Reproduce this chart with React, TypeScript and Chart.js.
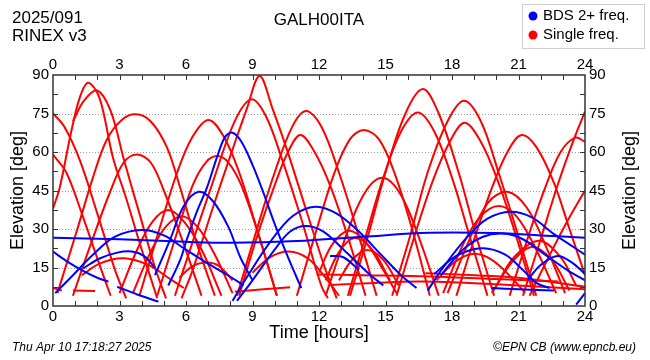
import React, { useEffect, useRef } from "react";
import { Chart, registerables } from "chart.js";

Chart.register(...registerables);

// ---- axis ticks ----
const xTickLabels = [0, 3, 6, 9, 12, 15, 18, 21, 24];
const yTickLabels = [0, 15, 30, 45, 60, 75, 90];
const xMinorTicks = [1, 2, 3, 4, 5, 6, 7, 8, 9, 10, 11, 12, 13, 14, 15, 16, 17, 18, 19, 20, 21, 22, 23];
const yMinorTicks = [7.5, 15, 22.5, 30, 37.5, 45, 52.5, 60, 67.5, 75, 82.5];
const gridValues = [15, 30, 45, 60, 75];

// ---- texts ----
const titleText = "GALH00ITA";
const topLeftLines = ["2025/091", "RINEX v3"];
const legendItems = [
  { label: "BDS 2+ freq.", color: "#0000ff" },
  { label: "Single freq.", color: "#ff0000" },
];
const xAxisTitle = "Time [hours]";
const yAxisTitle = "Elevation [deg]";
const footerLeft = "Thu Apr 10 17:18:27 2025";
const footerRight = "\u00A9EPN CB (www.epncb.eu)";

// ---- single-frequency satellite tracks [hour, elevation] ----
const redHigh1 = [[0, 38], [0.3, 46], [0.8, 67], [1.2, 81], [1.58, 87], [2.1, 81], [2.7, 58], [3.3, 42], [4.0, 22], [4.7, 3]];
const redHigh2 = [[0.9, 72], [1.4, 80], [1.99, 84], [2.6, 76], [3.2, 57], [3.9, 36], [4.6, 15], [5.1, 3]];
const redHigh3 = [[0.2, 5], [1.1, 30], [1.8, 50], [2.42, 64.7], [3.1, 72.5], [3.74, 74.7], [4.4, 72], [5.13, 62], [5.74, 46], [6.5, 24], [7.3, 4]];
const redHigh4 = [[0.9, 4], [1.7, 24], [2.6, 45], [3.2, 56], [3.78, 59], [4.4, 56], [5.0, 45], [5.9, 24], [6.7, 4]];
const redHigh5 = [[3.9, 4], [4.8, 30], [5.6, 52], [6.3, 66], [7.02, 72.5], [7.7, 66], [8.4, 52], [9.2, 30], [10.1, 4]];
const redHigh6 = [[4.7, 4], [5.5, 26], [6.3, 47], [6.9, 56], [7.4, 58.4], [7.9, 56], [8.5, 47], [9.3, 27], [10.1, 4]];
const redHigh7 = [[5.8, 3], [6.3, 14], [7.2, 38], [8.1, 61], [8.75, 77], [9.32, 89.6], [9.9, 77], [10.55, 61], [11.4, 38], [12.3, 14], [12.8, 3]];
const redHigh8 = [[5.5, 4], [6.3, 25], [7.2, 48], [8.2, 72], [8.95, 80.5], [9.6, 74], [10.3, 58], [11.2, 34], [12.1, 8], [12.4, 3]];
const redHigh9 = [[8.3, 4], [9.2, 30], [10.0, 52], [10.8, 70], [11.42, 76], [12.1, 70], [12.9, 52], [13.7, 30], [14.6, 4]];
const redHigh10 = [[8.4, 4], [9.2, 27], [10.0, 47], [10.6, 60], [11.16, 66.6], [11.8, 60], [12.5, 47], [13.3, 27], [14.1, 4]];
const redHigh11 = [[11.0, 4], [11.9, 30], [12.7, 52], [13.4, 65], [14.02, 68.6], [14.7, 65], [15.4, 52], [16.2, 30], [17.0, 4]];
const redHigh12 = [[12.3, 4], [13.0, 22], [13.7, 38], [14.3, 47], [14.85, 50], [15.4, 47], [16.0, 38], [16.7, 22], [17.4, 4]];
const redHigh13 = [[13.4, 4], [14.2, 27], [15.0, 52], [15.9, 75], [16.69, 84.5], [17.4, 75], [18.3, 52], [19.1, 27], [19.9, 4]];
const redHigh14 = [[13.3, 4], [14.1, 27], [14.9, 50], [15.7, 68], [16.46, 75.4], [17.2, 68], [18.0, 50], [18.8, 27], [19.6, 4]];
const redHigh15 = [[15.3, 4], [16.1, 27], [16.9, 52], [17.8, 72], [18.54, 80], [19.3, 72], [20.1, 52], [21.0, 27], [21.8, 4]];
const redHigh16 = [[15.5, 4], [16.3, 27], [17.1, 48], [17.9, 64], [18.57, 71.4], [19.3, 64], [20.1, 48], [20.9, 27], [21.7, 4]];
const redHigh17 = [[18.2, 4], [19.0, 26], [19.8, 46], [20.5, 60], [21.13, 66.6], [21.8, 62], [22.6, 48], [23.3, 30], [24, 12]];
const redHigh18 = [[21.2, 4], [22.0, 26], [22.8, 48], [23.5, 65], [24, 75.7]];
const redHigh19 = [[20.6, 4], [21.4, 26], [22.2, 46], [22.9, 60], [23.56, 65.6], [24, 64]];
const redHigh20 = [[0, 75], [0.5, 70], [1.2, 57], [2.0, 36], [2.8, 14], [3.3, 3]];
const redHigh21 = [[0, 59], [0.6, 52], [1.3, 36], [2.1, 16], [2.6, 4]];
const redMid1 = [[3.0, 5], [3.8, 22], [4.5, 33], [5.2, 37.4], [5.9, 33], [6.7, 22], [7.6, 4]];
const redMid2 = [[3.6, 5], [4.4, 21], [5.1, 31], [5.8, 35], [6.5, 31], [7.3, 20], [8.1, 5]];
const redMid3 = [[17.8, 5], [18.6, 22], [19.6, 40], [20.5, 44.5], [21.4, 38], [22.3, 22], [23.1, 5]];
const redMid4 = [[17.6, 5], [18.5, 24], [19.3, 35], [20.1, 39], [20.9, 35], [21.8, 22], [22.7, 5]];
const redMid5 = [[21.5, 4], [22.3, 18], [23.2, 33], [24, 45]];
const redLow1 = [[1.3, 12], [2.1, 16.5], [3.18, 18.6], [4.3, 16], [5.2, 11], [5.9, 7]];
const redLow2 = [[5.7, 11], [6.3, 15.5], [6.94, 16.9], [7.5, 15.5], [8.1, 10]];
const redLow3 = [[9.0, 13], [9.8, 19], [10.63, 21.2], [11.5, 18.5], [12.3, 11], [12.9, 4]];
const redLow4 = [[12.0, 13], [12.6, 24], [13.35, 29.3], [14.1, 25], [14.9, 14], [15.5, 5]];
const redLow5 = [[12.3, 10], [12.9, 21], [13.6, 26.5], [14.4, 22], [15.2, 10]];
const redLow6 = [[12.9, 10], [13.5, 18], [14.17, 21.8], [14.9, 18], [15.6, 8]];
const redLow7 = [[20.0, 8], [20.8, 19], [21.93, 25.4], [22.9, 19], [23.6, 8]];
const redLow8 = [[19.8, 5], [20.7, 17], [21.6, 23], [22.5, 18], [23.3, 6]];
const redLow9 = [[17.3, 10], [18.1, 17], [18.92, 20.3], [19.8, 18], [20.8, 10], [21.3, 5]];
const redFlat1 = [[11.9, 12.3], [14, 12], [17, 11.5], [20, 10.5], [22.8, 9.5]];
const redFlat2 = [[12.5, 8.2], [14.5, 9], [16.5, 9.5], [18, 9.3], [20, 8.5], [22, 7.5], [24, 6.5]];
const redFlat3 = [[16.8, 12.8], [19, 12], [21, 11], [24, 7.5]];
const redFlat4 = [[8.2, 5.6], [9.5, 6.5], [10.7, 7.3]];
const redFrag1 = [[0, 7], [0.4, 6]];
const redFrag2 = [[0.9, 6], [1.9, 5.8]];

// ---- BDS tracks [hour, elevation] ----
const blueGeo = [[0, 26.6], [3, 26], [6, 25], [8, 24.6], [11, 25.3], [14, 27], [17, 28.5], [20, 28.4], [22, 27.5], [24, 26.6]];
const blue1 = [[5.2, 8], [5.74, 18], [6.04, 26], [6.5, 37], [6.94, 46], [7.4, 58], [7.77, 66], [8.1, 67.5], [8.5, 64], [9.0, 55], [9.5, 44], [10.0, 32], [10.6, 19], [11.2, 7]];
const blue2 = [[4.6, 12], [5.29, 26], [5.9, 39], [6.57, 44.5], [7.2, 41], [7.9, 31], [8.45, 19], [9.0, 10]];
const blue3 = [[0.1, 5], [0.9, 12], [1.8, 20], [2.8, 27], [4.0, 29.6], [5.0, 27.5], [5.9, 22.5], [7.0, 16.5], [8.0, 11.4], [8.6, 8]];
const blue4 = [[1.37, 14.7], [2.1, 18.5], [2.9, 20.8], [3.55, 21.2], [4.1, 19.5], [4.6, 15]];
const blue5 = [[0, 21.2], [0.7, 17], [1.4, 13.5], [2.05, 10.8], [2.5, 9.5]];
const blue6 = [[2.9, 7.5], [3.8, 4.5], [4.76, 1.7]];
const blue7 = [[8.1, 2], [8.8, 12], [9.8, 25], [10.8, 35], [11.84, 38.7], [12.8, 36], [13.8, 29], [14.8, 20], [15.7, 12], [16.4, 7]];
const blue8 = [[8.3, 2], [9.0, 10], [10.0, 22], [10.7, 29], [11.39, 31.2], [12.2, 29], [13.1, 22], [14.2, 13], [14.9, 8]];
const blue9 = [[12.5, 19.5], [13.1, 19], [13.8, 14]];
const blue10 = [[16.9, 6], [17.6, 15], [18.7, 27], [19.6, 34], [20.65, 36.7], [21.6, 34.5], [22.6, 28], [23.3, 24], [24, 20]];
const blue11 = [[17.2, 12.5], [18.2, 19.5], [19.37, 22.5], [20.4, 20], [21.2, 14], [21.8, 9], [22.4, 7]];
const blue12 = [[17.5, 12], [18.5, 22], [19.4, 27], [20.3, 28.2], [21.2, 26], [22.2, 20], [23.2, 14], [24, 10]];
const blue13 = [[23.6, 0.5], [24, 5]];
const blue14 = [[21.4, 10], [22.0, 16], [22.76, 19.5], [23.4, 17], [24, 12.5]];
const blue15 = [[19.8, 7], [21, 6.5], [22.6, 6]];

const blueTracks = [blueGeo, blue1, blue2, blue3, blue4, blue5, blue6, blue7, blue8, blue9, blue10, blue11, blue12, blue13, blue14, blue15];
const redTracks = [
  redHigh1, redHigh2, redHigh3, redHigh4, redHigh5, redHigh6, redHigh7, redHigh8, redHigh9, redHigh10,
  redHigh11, redHigh12, redHigh13, redHigh14, redHigh15, redHigh16, redHigh17, redHigh18, redHigh19, redHigh20, redHigh21,
  redMid1, redMid2, redMid3, redMid4, redMid5,
  redLow1, redLow2, redLow3, redLow4, redLow5, redLow6, redLow7, redLow8, redLow9,
  redFlat1, redFlat2, redFlat3, redFlat4, redFrag1, redFrag2,
];

const RED = "#ff0000";
const BLUE = "#0000ff";
const FONT = "'Liberation Sans', Arial, Helvetica, sans-serif";

function toDataset(track: number[][], color: string) {
  return {
    data: track.map(([x, y]) => ({ x, y })),
    borderColor: color,
    backgroundColor: color,
    borderWidth: 2,
    pointRadius: 0,
    fill: false,
    tension: 0.35,
  };
}

const decorPlugin = {
  id: "decor",
  beforeDatasetsDraw(chart: any) {
    const { ctx, chartArea: a, scales } = chart;
    const ys = scales.y;
    ctx.save();
    ctx.strokeStyle = "#9a9a9a";
    ctx.lineWidth = 1;
    ctx.setLineDash([1, 2]);
    gridValues.forEach((v) => {
      const py = Math.round(ys.getPixelForValue(v)) + 0.5;
      ctx.beginPath();
      ctx.moveTo(a.left, py);
      ctx.lineTo(a.right, py);
      ctx.stroke();
    });
    ctx.restore();
  },
  afterDatasetsDraw(chart: any) {
    const { ctx, chartArea: a, scales } = chart;
    const xs = scales.x;
    const ys = scales.y;
    ctx.save();
    // frame
    ctx.strokeStyle = "#333";
    ctx.lineWidth = 1.5;
    ctx.setLineDash([]);
    ctx.strokeRect(a.left, a.top, a.right - a.left, a.bottom - a.top);
    // ticks
    ctx.lineWidth = 1;
    ctx.beginPath();
    xMinorTicks.forEach((h) => {
      const px = Math.round(xs.getPixelForValue(h)) + 0.5;
      ctx.moveTo(px, a.bottom);
      ctx.lineTo(px, a.bottom - 5);
      ctx.moveTo(px, a.top);
      ctx.lineTo(px, a.top + 5);
    });
    yMinorTicks.forEach((v) => {
      const py = Math.round(ys.getPixelForValue(v)) + 0.5;
      ctx.moveTo(a.left, py);
      ctx.lineTo(a.left + 5, py);
      ctx.moveTo(a.right, py);
      ctx.lineTo(a.right - 5, py);
    });
    ctx.stroke();

    // tick labels
    ctx.fillStyle = "#000";
    ctx.font = `15px ${FONT}`;
    ctx.textBaseline = "middle";
    ctx.textAlign = "center";
    xTickLabels.forEach((h) => {
      const px = xs.getPixelForValue(h);
      ctx.fillText(String(h), px, a.bottom + 11);
      ctx.fillText(String(h), px, a.top - 10);
    });
    yTickLabels.forEach((v) => {
      const py = ys.getPixelForValue(v);
      ctx.textAlign = "right";
      ctx.fillText(String(v), a.left - 4, py);
      ctx.textAlign = "left";
      ctx.fillText(String(v), a.right + 4, py);
    });

    // axis titles
    ctx.font = `18px ${FONT}`;
    ctx.textAlign = "center";
    ctx.fillText(xAxisTitle, (a.left + a.right) / 2, 333);
    const cy = (a.top + a.bottom) / 2;
    ctx.save();
    ctx.translate(18, cy);
    ctx.rotate(-Math.PI / 2);
    ctx.fillText(yAxisTitle, 0, 0);
    ctx.restore();
    ctx.save();
    ctx.translate(630, cy);
    ctx.rotate(-Math.PI / 2);
    ctx.fillText(yAxisTitle, 0, 0);
    ctx.restore();

    // title & header
    ctx.font = `17px ${FONT}`;
    ctx.textAlign = "center";
    ctx.fillText(titleText, (a.left + a.right) / 2, 20);
    ctx.textAlign = "left";
    ctx.fillText(topLeftLines[0], 12, 18);
    ctx.fillText(topLeftLines[1], 12, 36);

    // legend
    ctx.fillStyle = "#fff";
    ctx.fillRect(522, 4, 122, 44);
    ctx.strokeStyle = "#cfcfcf";
    ctx.lineWidth = 1;
    ctx.strokeRect(522.5, 4.5, 122, 44);
    ctx.font = `15px ${FONT}`;
    legendItems.forEach((it, i) => {
      const ly = 16 + i * 19;
      ctx.beginPath();
      ctx.fillStyle = it.color;
      ctx.arc(533, ly, 4.5, 0, Math.PI * 2);
      ctx.fill();
      ctx.fillStyle = "#000";
      ctx.textAlign = "left";
      ctx.fillText(it.label, 543, ly);
    });

    // footer
    ctx.font = `italic 12px ${FONT}`;
    ctx.fillStyle = "#000";
    ctx.textAlign = "left";
    ctx.fillText(footerLeft, 12, 348);
    ctx.textAlign = "right";
    ctx.fillText(footerRight, 636, 348);
    ctx.restore();
  },
};

export default function App() {
  const ref = useRef<HTMLCanvasElement>(null);
  useEffect(() => {
    if (!ref.current) return;
    const datasets = [
      ...blueTracks.map((t) => toDataset(t, BLUE)),
      ...redTracks.map((t) => toDataset(t, RED)),
    ];
    const chart = new Chart(ref.current, {
      type: "line",
      data: { datasets },
      options: {
        responsive: false,
        animation: false,
        parsing: false as any,
        layout: { padding: { left: 53, right: 65, top: 75, bottom: 54 } },
        scales: {
          x: { type: "linear", min: 0, max: 24, display: false },
          y: { type: "linear", min: 0, max: 90, display: false },
        },
        plugins: { legend: { display: false }, tooltip: { enabled: false } },
        events: [],
      },
      plugins: [decorPlugin],
    } as any);
    return () => chart.destroy();
  }, []);
  return (
    <div style={{ position: "absolute", left: 0, top: 0, width: 650, height: 360, background: "#fff" }}>
      <canvas ref={ref} width={650} height={360} style={{ display: "block" }} />
    </div>
  );
}
